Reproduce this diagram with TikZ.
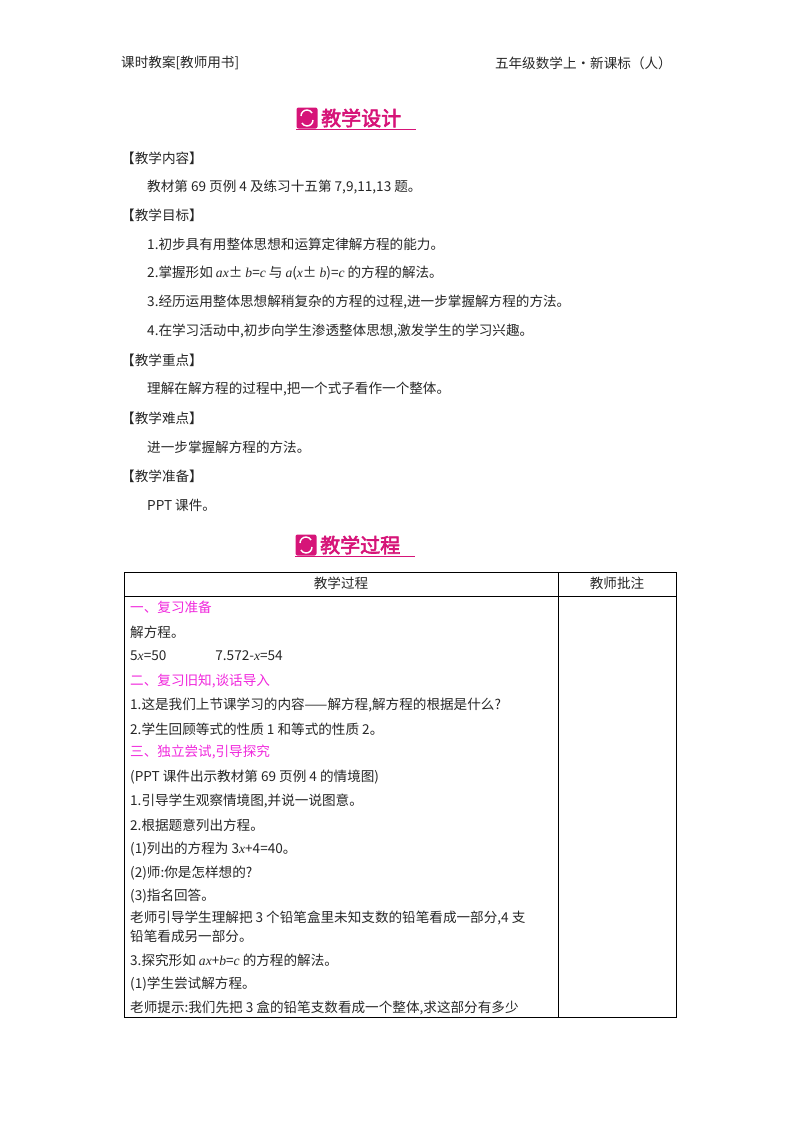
\documentclass[tikz,border=0pt]{standalone}
\usepackage{fontspec}
\setmainfont{Liberation Serif}
\newfontfamily\cjk{Noto Sans CJK SC}[ItalicFont=Liberation Serif Italic]
\newfontfamily\cjkb{Noto Sans CJK SC}[FakeBold=3]
\definecolor{ttl}{RGB}{214,20,120}
\definecolor{sec}{RGB}{240,40,220}
\newcommand{\vv}[1]{{\fontspec{Liberation Serif Italic}#1}}
\begin{document}
\begin{tikzpicture}[x=1pt,y=-1pt,
  txt/.style={anchor=west,inner sep=0pt,font=\cjk\fontsize{13.6}{16}\selectfont,text=black!85},
  sect/.style={txt,text=sec},
  big/.style={anchor=west,inner sep=0pt,font=\cjkb\fontsize{20}{22}\selectfont,text=ttl}]
\useasboundingbox (0,0) rectangle (800,1132);
% header
\node[txt] (h1) at (121,63) {课时教案[教师用书]};
\node[txt,anchor=east] (h2) at (672,63) {五年级数学上·新课标（人）};
% title 1
\node[fill=ttl,rounded corners=2pt,minimum size=21pt,inner sep=0pt] (ic1) at (307,118) {};
\draw[white,line width=1.4pt] (ic1.center) ++(-6,-2) arc (180:330:6) (ic1.center) ++(6,2) arc (0:150:6);
\node[big] (t1) at (321,118) {教学设计};
\draw[ttl,line width=0.8pt] (296,129) -- (416,129);
\node[txt] (a1) at (121,158) {【教学内容】};
\node[txt] (a2) at (147,187) {教材第 69 页例 4 及练习十五第 7,9,11,13 题。};
\node[txt] (b1) at (121,215) {【教学目标】};
\node[txt] (b2) at (147,244) {1.初步具有用整体思想和运算定律解方程的能力。};
\node[txt] (b3) at (147,273) {2.掌握形如 \vv{ax}± \vv{b}=\vv{c} 与 \vv{a}(\vv{x}± \vv{b})=\vv{c} 的方程的解法。};
\node[txt] (b4) at (147,302) {3.经历运用整体思想解稍复杂的方程的过程,进一步掌握解方程的方法。};
\node[txt] (b5) at (147,331) {4.在学习活动中,初步向学生渗透整体思想,激发学生的学习兴趣。};
\node[txt] (c1) at (121,360) {【教学重点】};
\node[txt] (c2) at (147,389) {理解在解方程的过程中,把一个式子看作一个整体。};
\node[txt] (d1) at (121,418) {【教学难点】};
\node[txt] (d2) at (147,447) {进一步掌握解方程的方法。};
\node[txt] (e1) at (121,476) {【教学准备】};
\node[txt] (e2) at (147,505) {PPT 课件。};
% title 2
\node[fill=ttl,rounded corners=2pt,minimum size=21pt,inner sep=0pt] (ic2) at (306,545) {};
\draw[white,line width=1.4pt] (ic2.center) ++(-6,-2) arc (180:330:6) (ic2.center) ++(6,2) arc (0:150:6);
\node[big] (t2) at (320,545) {教学过程};
\draw[ttl,line width=0.8pt] (295,556) -- (415,556);
% table
\draw[line width=1pt] (124,572) rectangle (676,1017);
\draw[line width=1pt] (558,572) -- (558,1017) (124,596) -- (676,596);
\node[txt,anchor=center] (th1) at (341,583) {教学过程};
\node[txt,anchor=center] (th2) at (617,583) {教师批注};
\node[sect] (r1) at (130,607) {一、复习准备};
\node[txt] (r2) at (130,632) {解方程。};
\node[txt] (r3) at (130,656) {5\vv{x}=50\hspace{3.6em}7.572-\vv{x}=54};
\node[sect] (r4) at (130,681) {二、复习旧知,谈话导入};
\node[txt] (r5) at (130,705) {1.这是我们上节课学习的内容——解方程,解方程的根据是什么?};
\node[txt] (r6) at (130,729) {2.学生回顾等式的性质 1 和等式的性质 2。};
\node[sect] (r7) at (130,752) {三、独立尝试,引导探究};
\node[txt] (r8) at (130,777) {(PPT 课件出示教材第 69 页例 4 的情境图)};
\node[txt] (r9) at (130,801) {1.引导学生观察情境图,并说一说图意。};
\node[txt] (r10) at (130,825) {2.根据题意列出方程。};
\node[txt] (r11) at (130,849) {(1)列出的方程为 3\vv{x}+4=40。};
\node[txt] (r12) at (130,873) {(2)师:你是怎样想的?};
\node[txt] (r13) at (130,896) {(3)指名回答。};
\node[txt] (r14) at (130,918) {老师引导学生理解把 3 个铅笔盒里未知支数的铅笔看成一部分,4 支};
\node[txt] (r15) at (130,936) {铅笔看成另一部分。};
\node[txt] (r16) at (130,960) {3.探究形如 \vv{ax}+\vv{b}=\vv{c} 的方程的解法。};
\node[txt] (r17) at (130,984) {(1)学生尝试解方程。};
\node[txt] (r18) at (130,1008) {老师提示:我们先把 3 盒的铅笔支数看成一个整体,求这部分有多少};
\end{tikzpicture}
\end{document}
